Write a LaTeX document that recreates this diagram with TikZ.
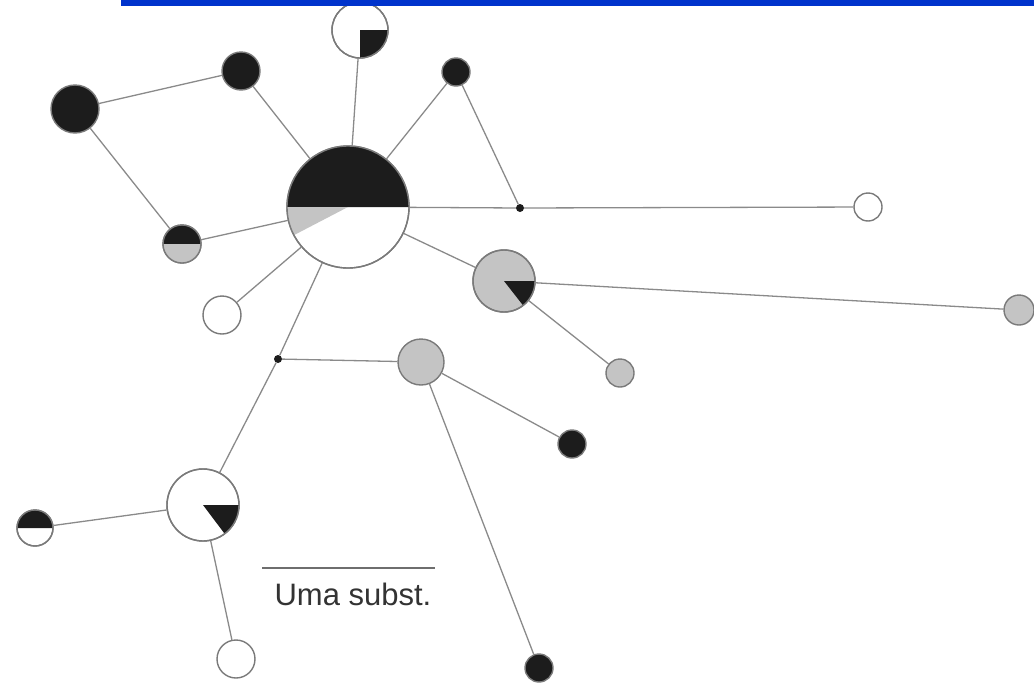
\documentclass[tikz,border=0pt]{standalone}
\usepackage{fontspec}
\setmainfont{Liberation Sans}
\definecolor{edgec}{HTML}{8A8A8A}
\definecolor{outc}{HTML}{7A7A7A}
\definecolor{blk}{HTML}{1C1C1C}
\definecolor{gry}{HTML}{C4C4C4}
\definecolor{barblue}{HTML}{0033CC}
\definecolor{txtc}{HTML}{333333}
\begin{document}
\begin{tikzpicture}[x=1pt,y=-1pt,
  nd/.style={circle, draw=outc, line width=1.4pt, inner sep=0pt, minimum size=2*#1},
  wn/.style={nd=#1, fill=white},
  bn/.style={nd=#1, fill=blk},
  gn/.style={nd=#1, fill=gry},
  jn/.style={circle, fill=blk, inner sep=0pt, minimum size=8},
  edge/.style={draw=edgec, line width=1.3pt},
  ring/.style={draw=outc, line width=1.4pt}
]
\useasboundingbox (0,0) rectangle (1034,683);
% nodes
\node[wn=61] (big) at (348,207) {};
\node[wn=28] (top) at (360,30) {};
\node[bn=24] (A) at (75,109) {};
\node[bn=19] (B) at (241,71) {};
\node[bn=14] (C) at (456,72) {};
\node[jn] (j1) at (520,208) {};
\node[wn=14] (W1) at (868,207) {};
\node[gn=31] (G1) at (504,281) {};
\node[gn=15] (G2) at (1019,310) {};
\node[gn=14] (G3) at (620,373) {};
\node[wn=19] (W2) at (222,315) {};
\node[wn=19] (HB) at (182,244) {};
\node[jn] (j2) at (278,359) {};
\node[gn=23] (G4) at (421,362) {};
\node[bn=14] (K1) at (572,444) {};
\node[bn=14] (K2) at (539,668) {};
\node[wn=36] (P) at (203,505) {};
\node[wn=18] (HW) at (35,528) {};
\node[wn=19] (W3) at (236,659) {};
% wedges (positive angles turn downward on the page)
\fill[blk] (big.center) -- ++(0:61) arc[start angle=0, end angle=-180, radius=61] -- cycle;
\fill[gry] (big.center) -- ++(180:61) arc[start angle=180, end angle=152.5, radius=61] -- cycle;
\draw[ring] (big.center) circle[radius=61];
\fill[blk] (top.center) -- ++(0:28) arc[start angle=0, end angle=90, radius=28] -- cycle;
\draw[ring] (top.center) circle[radius=28];
\fill[blk] (G1.center) -- ++(0:31) arc[start angle=0, end angle=52, radius=31] -- cycle;
\draw[ring] (G1.center) circle[radius=31];
\fill[blk] (P.center) -- ++(0:36) arc[start angle=0, end angle=53, radius=36] -- cycle;
\draw[ring] (P.center) circle[radius=36];
\fill[blk] (HB.center) -- ++(0:19) arc[start angle=0, end angle=-180, radius=19] -- cycle;
\fill[gry] (HB.center) -- ++(0:19) arc[start angle=0, end angle=180, radius=19] -- cycle;
\draw[ring] (HB.center) circle[radius=19];
\fill[blk] (HW.center) -- ++(0:18) arc[start angle=0, end angle=-180, radius=18] -- cycle;
\draw[ring] (HW.center) circle[radius=18];
% edges
\draw[edge] (A) -- (B);
\draw[edge] (B) -- (big);
\draw[edge] (A) -- (HB);
\draw[edge] (HB) -- (big);
\draw[edge] (top) -- (big);
\draw[edge] (C) -- (big);
\draw[edge] (C) -- (j1);
\draw[edge] (big) -- (j1);
\draw[edge] (j1) -- (W1);
\draw[edge] (big) -- (G1);
\draw[edge] (G1) -- (G2);
\draw[edge] (G1) -- (G3);
\draw[edge] (big) -- (W2);
\draw[edge] (big) -- (j2);
\draw[edge] (j2) -- (G4);
\draw[edge] (j2) -- (P);
\draw[edge] (G4) -- (K1);
\draw[edge] (G4) -- (K2);
\draw[edge] (P) -- (HW);
\draw[edge] (P) -- (W3);
% scale bar
\coordinate (s1) at (262,568);
\coordinate (s2) at (435,568);
\draw[draw=edgec!80!black, line width=1.6pt] (s1) -- (s2);
\node[text=txtc, font=\fontsize{31}{36}\selectfont, inner sep=0pt] (lbl) at (353,594) {Uma subst.};
% top bar
\fill[barblue] (121,0) rectangle (1034,5.5);
\end{tikzpicture}
\end{document}
